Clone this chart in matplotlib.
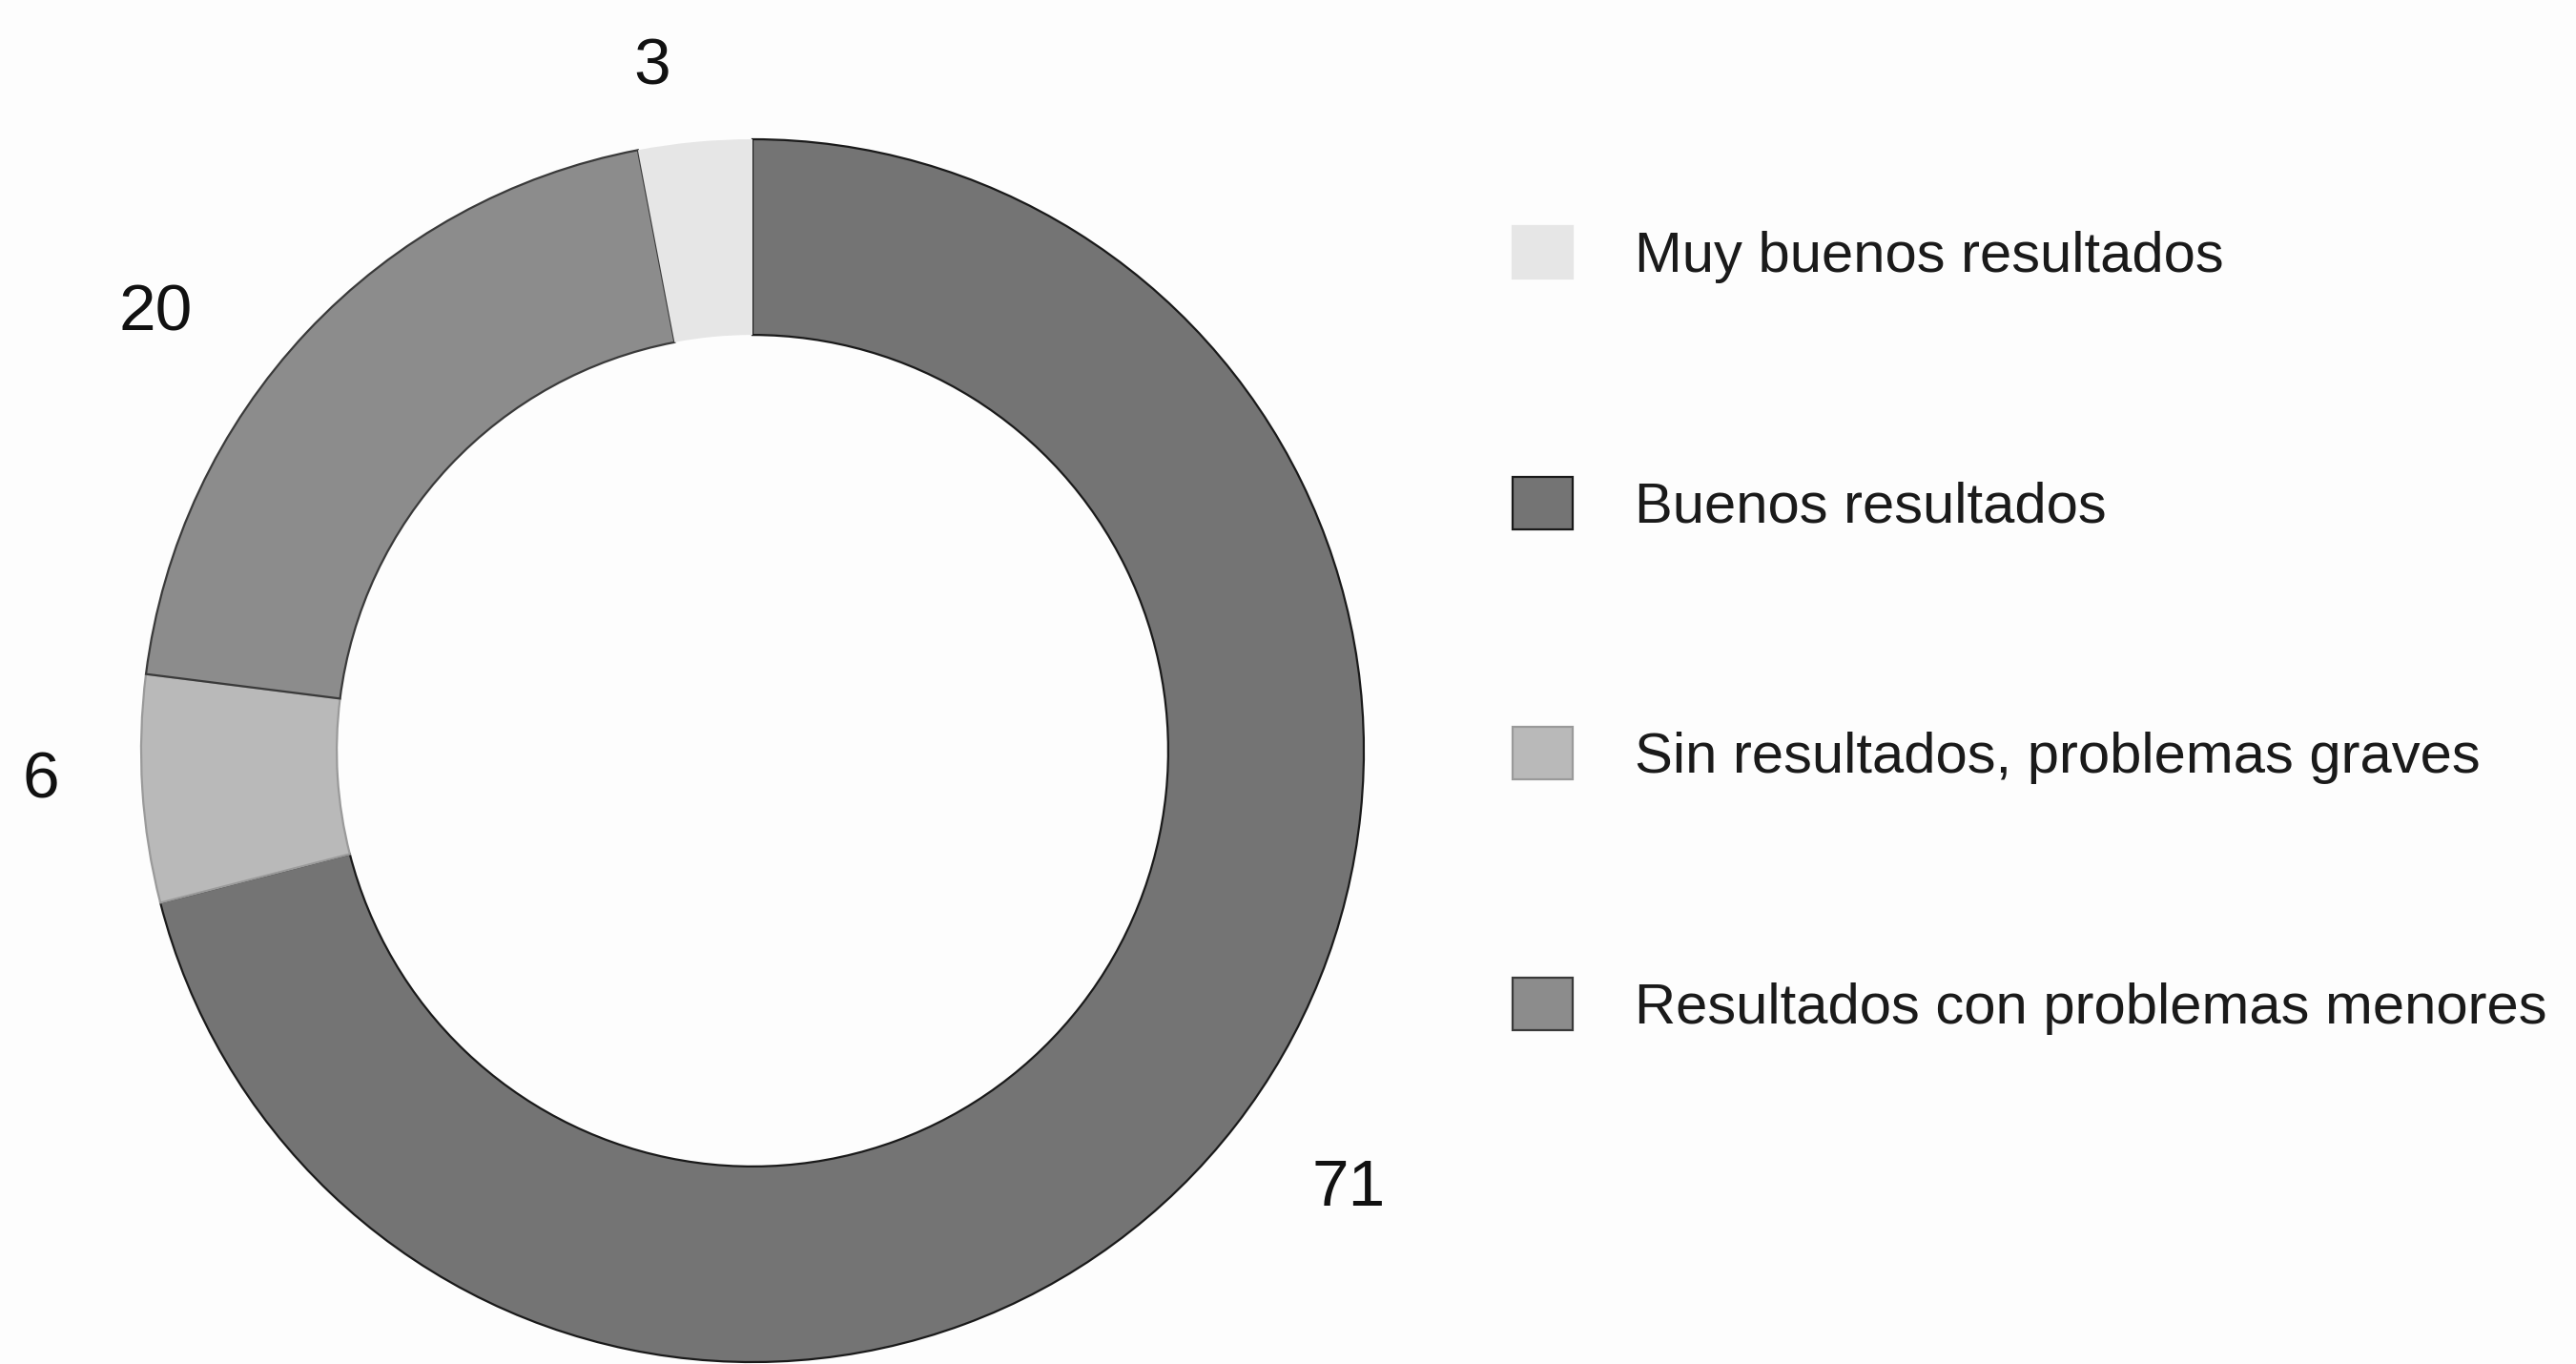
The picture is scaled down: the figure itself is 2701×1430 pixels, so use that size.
import numpy as np
import matplotlib
matplotlib.use("Agg")
import matplotlib.pyplot as plt
from matplotlib.patches import Patch

# Data (clockwise from 12 o'clock)
categories = ["Buenos resultados", "Sin resultados, problemas graves",
              "Resultados con problemas menores", "Muy buenos resultados"]
values = [71, 6, 20, 3]
value_labels = ["71", "6", "20", "3"]
legend_order = ["Muy buenos resultados", "Buenos resultados",
                "Sin resultados, problemas graves", "Resultados con problemas menores"]

colors = {"Buenos resultados": "#747474",
          "Sin resultados, problemas graves": "#b9b9b9",
          "Resultados con problemas menores": "#8c8c8c",
          "Muy buenos resultados": "#e6e6e6"}
edges = {"Buenos resultados": "#1a1a1a",
         "Sin resultados, problemas graves": "#9a9a9a",
         "Resultados con problemas menores": "#3a3a3a",
         "Muy buenos resultados": "none"}

plt.rcParams['font.family'] = ['Liberation Sans', 'DejaVu Sans']

W, H = 2701, 1430
fig = plt.figure(figsize=(W / 100, H / 100), dpi=100)
fig.patch.set_facecolor("#fdfdfd")

cx, cy, R = 789, 787, 641
ax = fig.add_axes([(cx - R) / W, (H - cy - R) / H, 2 * R / W, 2 * R / H])
ax.set_facecolor("none")

wedges, _ = ax.pie(values, startangle=90, counterclock=False, radius=1.0,
                   colors=[colors[c] for c in categories],
                   wedgeprops=dict(width=0.32, linewidth=1.6))
for w, c in zip(wedges, categories):
    w.set_edgecolor(edges[c])

# value labels
dists = [1.21, 1.165, 1.21, 1.13]
ang_adj = [1.5, -1.2, 7.0, 3.0]
for w, lab, d, da in zip(wedges, value_labels, dists, ang_adj):
    mid = np.deg2rad((w.theta1 + w.theta2) / 2 + da)
    ax.text(d * np.cos(mid), d * np.sin(mid), lab, ha="center", va="center",
            fontsize=50, color="#111111")

ax.set_xlim(-1, 1)
ax.set_ylim(-1, 1)
ax.set_aspect("equal")
ax.axis("off")

handles = [Patch(facecolor=colors[c], edgecolor=edges[c] if edges[c] != "none" else colors[c],
                 linewidth=1.6, label=c) for c in legend_order]
fig.legend(handles=handles, loc="upper left", bbox_to_anchor=(1586 / W, 1 - 237 / H),
           frameon=False, fontsize=43, handlelength=1.05, handleheight=1.05,
           handletextpad=1.1, labelspacing=3.39, borderaxespad=0, borderpad=0,
           labelcolor="#1a1a1a")

fig.savefig("out.png", dpi=100, facecolor=fig.get_facecolor())
